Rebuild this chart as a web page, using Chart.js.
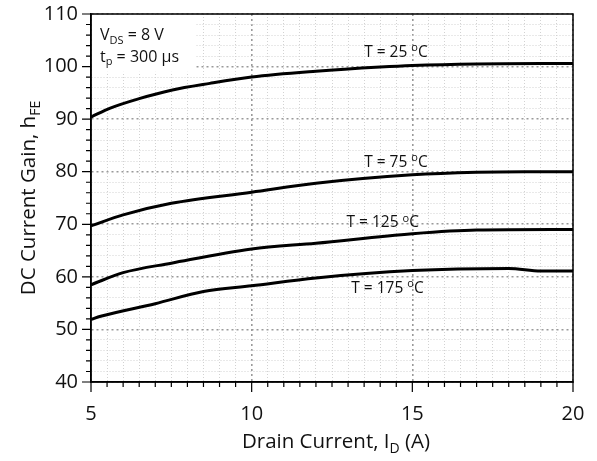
<!DOCTYPE html>
<html>
<head>
<meta charset="utf-8">
<script src="https://cdn.jsdelivr.net/npm/chart.js@4.4.0/dist/chart.umd.min.js"></script>
<style>
  html, body { margin: 0; padding: 0; background: #fff; }
  #wrap { width: 597px; height: 461px; position: relative; }
</style>
</head>
<body>
<div id="wrap"><canvas id="gainChart"></canvas></div>
<script>
// Drain current (A) and DC current gain
var x25 = [5, 5.6, 6.5, 7.5, 8.7, 10, 12, 14, 15, 17, 20];
var y25 = [90.4, 92.1, 93.9, 95.5, 96.8, 98.0, 99.1, 99.9, 100.2, 100.5, 100.6];

var x75 = [5, 6, 7.5, 10, 12, 15, 17, 18.5, 20];
var y75 = [69.7, 71.8, 74.0, 76.1, 77.8, 79.4, 79.9, 80.0, 80.0];

var x125 = [5, 6, 7.5, 10, 12, 15, 17, 20];
var y125 = [58.5, 60.8, 62.6, 65.3, 66.4, 68.2, 68.9, 69.0];

var x175 = [5, 5.3, 7, 8.5, 10, 12, 15, 18, 19, 20];
var y175 = [51.9, 52.5, 54.9, 57.2, 58.3, 59.8, 61.2, 61.6, 61.1, 61.1];

var xTicks = [5, 10, 15, 20];
var yTicks = [40, 50, 60, 70, 80, 90, 100, 110];

// curve labels: pieces of text with normal / sub / sup parts, anchored in data units
var notes = [
    { x: 5.28, y: 105.0, size: 16, parts: [['V', 'n'], ['DS', 'sub'], [' = 8 V', 'n']] },
    { x: 5.28, y: 100.9, size: 16, parts: [['t', 'n'], ['p', 'sub'], [' = 300 \u00b5s', 'n']] },
    { x: 13.5, y: 101.8, size: 15.5, parts: [['T = 25 ', 'n'], ['o', 'sup'], ['C', 'n']] },
    { x: 13.5, y: 80.85, size: 15.5, parts: [['T = 75 ', 'n'], ['o', 'sup'], ['C', 'n']] },
    { x: 12.95, y: 69.4, size: 15.5, parts: [['T = 125 ', 'n'], ['o', 'sup'], ['C', 'n']] },
    { x: 13.1, y: 56.9, size: 15.5, parts: [['T = 175 ', 'n'], ['o', 'sup'], ['C', 'n']] }
];

var FONT = '"Open Sans", sans-serif';

function toPoints(xs, ys) {
    return xs.map(function (v, i) { return { x: v, y: ys[i] }; });
}

function curve(label, xs, ys) {
    return {
        label: label,
        data: toPoints(xs, ys),
        borderColor: '#000',
        borderWidth: 3,
        pointRadius: 0,
        fill: false,
        cubicInterpolationMode: 'monotone'
    };
}

// width of a run of mixed text
function richWidth(ctx, parts, size) {
    var small = Math.round(size * 0.68);
    var total = 0;
    parts.forEach(function (p) {
        ctx.font = (p[1] === 'n' ? size : small) + 'px ' + FONT;
        total += ctx.measureText(p[0]).width;
    });
    return total;
}

function drawRich(ctx, parts, x, y, size) {
    var small = Math.round(size * 0.68);
    var cx = x;
    ctx.textBaseline = 'alphabetic';
    ctx.textAlign = 'left';
    parts.forEach(function (p) {
        var dy = 0;
        if (p[1] === 'n') {
            ctx.font = size + 'px ' + FONT;
        } else {
            ctx.font = small + 'px ' + FONT;
            dy = p[1] === 'sub' ? size * 0.22 : -size * 0.38;
        }
        ctx.fillText(p[0], cx, y + dy);
        cx += ctx.measureText(p[0]).width;
    });
}

var decorPlugin = {
    id: 'decor',
    beforeDatasetsDraw: function (chart) {
        // white box behind the test conditions, hides the grid there
        var ctx = chart.ctx;
        var area = chart.chartArea;
        var xs = chart.scales.x, ys = chart.scales.y;
        var r = xs.getPixelForValue(8.27);
        var b = ys.getPixelForValue(99.0);
        ctx.save();
        ctx.fillStyle = '#fff';
        ctx.fillRect(area.left + 1, area.top + 1, r - area.left - 1, b - area.top - 1);
        ctx.restore();
    },
    afterDraw: function (chart) {
        var ctx = chart.ctx;
        var area = chart.chartArea;
        var xs = chart.scales.x, ys = chart.scales.y;
        ctx.save();

        // frame
        ctx.strokeStyle = '#000';
        ctx.lineWidth = 1.5;
        ctx.strokeRect(area.left, area.top, area.right - area.left, area.bottom - area.top);

        // outside tick marks
        ctx.beginPath();
        for (var v = 40; v <= 110; v += 2) {
            var py = ys.getPixelForValue(v);
            var len = v % 10 === 0 ? 9 : 5;
            ctx.moveTo(area.left - len, py);
            ctx.lineTo(area.left, py);
        }
        for (var u = 5; u <= 20; u += 0.5) {
            var px = xs.getPixelForValue(u);
            var l2 = u % 5 === 0 ? 10 : 5;
            ctx.moveTo(px, area.bottom);
            ctx.lineTo(px, area.bottom + l2);
        }
        ctx.lineWidth = 1.2;
        ctx.stroke();

        // curve notes
        ctx.fillStyle = '#111';
        notes.forEach(function (n) {
            drawRich(ctx, n.parts, xs.getPixelForValue(n.x), ys.getPixelForValue(n.y), n.size);
        });

        // axis titles
        var xt = [['Drain Current, I', 'n'], ['D', 'sub'], [' (A)', 'n']];
        var w = richWidth(ctx, xt, 20.5);
        drawRich(ctx, xt, (area.left + area.right) / 2 - w / 2 + 4, 448, 20.5);

        var yt = [['DC Current Gain, h', 'n'], ['FE', 'sub']];
        var wy = richWidth(ctx, yt, 20.5);
        ctx.translate(35, (area.top + area.bottom) / 2);
        ctx.rotate(-Math.PI / 2);
        drawRich(ctx, yt, -wy / 2, 0, 20.5);
        ctx.restore();
    }
};

var ctx = document.getElementById('gainChart').getContext('2d');

var gainChart = new Chart(ctx, {
    type: 'line',
    data: {
        datasets: [
            curve('T = 25 \u00b0C', x25, y25),
            curve('T = 75 \u00b0C', x75, y75),
            curve('T = 125 \u00b0C', x125, y125),
            curve('T = 175 \u00b0C', x175, y175)
        ]
    },
    options: {
        responsive: true,
        maintainAspectRatio: false,
        animation: false,
        layout: { padding: { top: 14, right: 24, left: 0, bottom: 0 } },
        plugins: {
            legend: { display: false },
            tooltip: { enabled: false }
        },
        scales: {
            x: {
                type: 'linear',
                min: 5,
                max: 20,
                afterFit: function (scale) {
                    scale.height = 79;
                    scale.paddingLeft = 0;
                    scale.paddingRight = 0;
                },
                afterBuildTicks: function (scale) {
                    var t = [];
                    for (var v = 5; v <= 20; v += 0.5) t.push({ value: v });
                    scale.ticks = t;
                },
                ticks: {
                    autoSkip: false,
                    maxRotation: 0,
                    padding: 20,
                    color: '#111',
                    font: { family: FONT, size: 20 },
                    callback: function (v) { return xTicks.indexOf(v) >= 0 ? String(v) : ''; }
                },
                grid: {
                    drawTicks: false,
                    color: function (c) { return c.tick && c.tick.value % 5 === 0 ? '#9a9a9a' : '#d2d2d2'; },
                    lineWidth: function (c) { return c.tick && c.tick.value % 5 === 0 ? 1.6 : 1; }
                },
                border: {
                    display: true,
                    color: '#000',
                    width: 1.5,
                    dash: function (c) { return c.tick && c.tick.value % 5 === 0 ? [2, 3] : [1, 2]; }
                }
            },
            y: {
                min: 40,
                max: 110,
                afterFit: function (scale) {
                    scale.width = 91;
                    scale.paddingTop = 0;
                    scale.paddingBottom = 0;
                },
                afterBuildTicks: function (scale) {
                    var t = [];
                    for (var v = 40; v <= 110; v += 2) t.push({ value: v });
                    scale.ticks = t;
                },
                ticks: {
                    autoSkip: false,
                    padding: 13,
                    color: '#111',
                    font: { family: FONT, size: 20 },
                    callback: function (v) { return yTicks.indexOf(v) >= 0 ? String(v) : ''; }
                },
                grid: {
                    drawTicks: false,
                    color: function (c) { return c.tick && c.tick.value % 10 === 0 ? '#9a9a9a' : '#d2d2d2'; },
                    lineWidth: function (c) { return c.tick && c.tick.value % 10 === 0 ? 1.6 : 1; }
                },
                border: {
                    display: true,
                    color: '#000',
                    width: 1.5,
                    dash: function (c) { return c.tick && c.tick.value % 10 === 0 ? [2, 3] : [1, 2]; }
                }
            }
        }
    },
    plugins: [decorPlugin]
});
</script>
</body>
</html>
